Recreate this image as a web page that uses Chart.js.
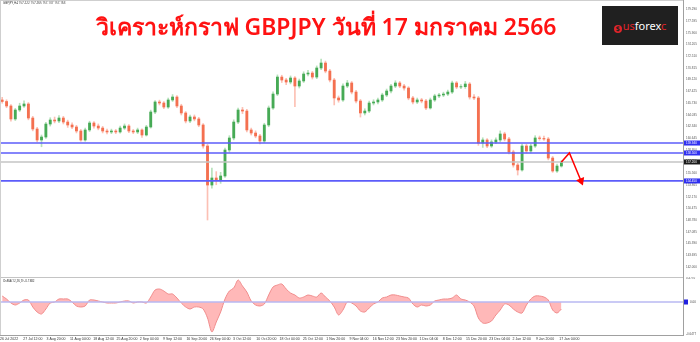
<!DOCTYPE html>
<html>
<head>
<meta charset="utf-8">
<script src="https://cdn.jsdelivr.net/npm/chart.js@4.4.0/dist/chart.umd.min.js"></script>
<style>
	body { margin: 0; background: #fff; width: 700px; height: 342px; overflow: hidden; position: relative; font-family: 'Noto Sans', sans-serif; }
	#main { position: absolute; left: 0; top: 0; }
	#osma { position: absolute; left: 0; top: 277px; }
	#frame { position: absolute; left: 0; top: 0; width: 683px; height: 278px; border-left: 1px solid #cfcfcf; border-top: 1px solid #cfcfcf; border-bottom: 1px solid #c4c4c4; box-sizing: border-box; pointer-events: none; }
	#frame2 { position: absolute; left: 0; top: 277px; width: 1px; height: 58px; background: #cfcfcf; }
	#header { position: absolute; left: 3px; top: 1px; font-size: 3px; color: #333; white-space: nowrap; }
	#osmaLabel { position: absolute; left: 3px; top: 279px; font-size: 3px; color: #333; white-space: nowrap; }
	#title { position: absolute; left: 0; top: 9px; width: 652px; text-align: center; color: #ff1212; font-size: 23px; font-weight: 600; white-space: nowrap; }
	#logo { position: absolute; left: 602px; top: 6px; width: 76px; height: 39px; background: #202020; color: #fff; font-size: 11px; line-height: 39px; text-align: center; white-space: nowrap; }
	#logo .red { color: #e0242a; }
	#logo .dot { display: inline-block; width: 8px; height: 8px; border-radius: 50%; background: #e0242a; color: #202020; font-size: 7px; line-height: 8px; font-weight: bold; vertical-align: -1px; margin-right: 1px; }
</style>
</head>
<body>
<canvas id="main" width="700" height="277"></canvas>
<canvas id="osma" width="700" height="65"></canvas>
<div id="frame"></div>
<div id="frame2"></div>
<div id="header">GBPJPY,H4 157.222 157.265 157.137 157.163</div>
<div id="osmaLabel">OsMA(12,26,9) -0.1382</div>
<div id="title">วิเคราะห์กราฟ GBPJPY วันที่ 17 มกราคม 2566</div>
<div id="logo"><span class="dot">$</span><span class="red">us</span>forex<span class="red">c</span></div>
<script>
//GBPJPY H4 chart, one candle per trading day

//opens / highs / lows / closes
const opens = [166.17,165.95,165.30,163.42,164.72,165.30,165.59,163.56,161.97,160.38,
	160.81,162.69,163.27,163.13,163.56,162.98,162.55,162.26,161.68,160.38,
	161.83,162.84,162.40,162.11,161.68,161.54,161.68,161.54,162.11,162.40,
	161.68,161.54,161.83,161.10,162.26,164.43,165.88,165.73,165.15,166.17,
	166.60,165.30,164.29,163.13,163.71,163.42,162.55,159.51,153.86,154.88,
	154.59,155.17,158.93,160.67,162.98,164.72,164.57,161.83,161.39,160.96,
	160.23,162.55,165.01,167.03,169.49,169.06,168.77,169.35,168.19,168.92,
	169.93,170.07,169.49,170.80,171.52,170.36,169.06,166.46,166.17,168.19,
	168.63,167.32,166.02,164.29,164.57,165.73,165.88,166.17,166.89,167.47,
	168.19,168.63,168.19,167.90,166.46,165.88,166.17,166.02,165.01,166.17,
	166.75,166.89,167.03,167.32,168.63,168.05,168.10,168.48,166.60,166.46,
	159.94,160.38,159.51,160.09,160.38,161.25,160.52,158.64,156.76,156.04,
	159.51,158.79,159.51,160.67,160.60,160.52,157.77,155.89,156.61];

const closes = [165.95,165.30,163.42,164.72,165.30,165.59,163.56,161.97,160.38,160.81,
	162.69,163.27,163.13,163.56,162.98,162.55,162.26,161.68,160.38,161.83,
	162.84,162.40,162.11,161.68,161.54,161.68,161.54,162.11,162.40,161.68,
	161.54,161.83,161.10,162.26,164.43,165.88,165.73,165.15,166.17,166.60,
	165.30,164.29,163.13,163.71,163.42,162.55,159.51,153.86,154.88,154.59,
	155.17,158.93,160.67,162.98,164.72,164.57,161.83,161.39,160.96,160.23,
	162.55,165.01,167.03,169.49,169.06,168.77,169.35,168.19,168.92,169.93,
	170.07,169.49,170.80,171.52,170.36,169.06,166.46,166.17,168.19,168.63,
	167.32,166.02,164.29,164.57,165.73,165.88,166.17,166.89,167.47,168.19,
	168.63,168.19,167.90,166.46,165.88,166.17,166.02,165.01,166.17,166.75,
	166.89,167.03,167.32,168.63,168.05,168.10,168.48,166.60,166.46,159.94,
	160.38,159.51,160.09,160.38,161.25,160.52,158.64,156.76,156.04,159.51,
	158.79,159.51,160.67,160.60,160.52,157.77,155.89,156.61,157.20];

const highs = [166.55,166.20,165.50,164.95,165.70,166.05,165.80,163.80,162.20,161.10,
	162.95,163.60,163.70,163.90,163.80,163.25,162.85,162.50,161.90,162.10,
	163.10,163.05,162.70,162.35,161.95,161.95,161.90,162.40,162.70,162.60,
	161.90,162.10,162.00,162.50,164.70,166.10,166.15,165.95,166.45,166.95,
	166.80,165.55,164.50,164.00,164.00,163.65,162.75,159.75,156.30,155.80,
	155.70,159.20,161.00,163.30,165.00,165.10,164.80,162.10,161.70,161.20,
	162.80,165.30,167.35,169.80,169.75,169.30,169.65,169.55,169.20,170.25,
	170.45,170.30,171.10,172.10,171.80,170.60,169.30,166.75,168.50,169.00,
	168.85,167.55,166.25,164.90,166.00,166.20,166.45,167.15,167.75,168.45,
	168.95,168.85,168.45,168.10,166.70,166.45,166.40,166.25,166.45,167.00,
	167.15,167.30,167.60,168.90,168.85,168.40,168.85,168.70,166.95,166.70,
	160.70,160.60,160.40,160.70,161.70,161.50,160.75,158.90,157.00,159.80,
	159.75,159.80,161.00,160.95,160.95,160.75,158.00,156.90,157.40];

const lows = [165.70,165.05,163.10,163.20,164.50,165.10,163.30,161.70,160.10,159.40,
	160.60,162.40,162.85,162.90,162.70,162.20,162.00,161.40,160.20,160.20,
	161.60,162.10,161.85,161.40,161.25,161.30,161.30,161.35,161.90,161.45,
	161.30,161.30,160.75,160.95,162.10,164.20,165.45,164.90,164.95,165.95,
	165.05,164.00,162.85,162.90,163.15,162.30,159.20,148.80,153.40,153.90,
	154.10,154.95,158.60,160.40,162.75,164.20,161.55,161.10,160.70,159.80,
	160.00,162.30,164.80,166.80,168.70,168.40,168.50,165.20,167.90,168.70,
	169.65,169.20,169.25,170.55,170.10,168.80,165.45,165.85,165.95,167.95,
	167.05,165.75,163.70,164.00,164.35,165.45,165.60,165.95,166.65,167.20,
	167.95,167.95,167.60,166.20,165.60,165.65,165.75,164.75,164.85,165.95,
	166.50,166.65,166.80,167.10,167.80,167.80,167.85,166.30,166.20,159.60,
	159.30,159.25,159.30,159.85,160.10,160.25,158.35,156.45,155.31,155.85,
	158.50,158.50,159.30,160.35,160.30,157.50,155.70,155.70,156.45];

//OsMA histogram, one value per candle
const osmaValues = [0.12,0.06,-0.02,-0.06,-0.02,0.04,0.04,-0.10,-0.20,-0.24,
	-0.14,-0.02,0.00,0.06,0.06,0.06,0.00,-0.08,-0.10,-0.08,
	0.04,0.04,0.02,0.00,-0.02,-0.02,-0.02,0.00,0.02,0.02,
	-0.02,0.00,0.00,-0.02,0.10,0.24,0.26,0.22,0.16,0.16,
	0.08,-0.02,-0.10,-0.14,-0.10,-0.10,-0.14,-0.32,-0.60,-0.40,
	-0.20,0.06,0.22,0.28,0.44,0.32,0.20,0.02,-0.06,-0.08,
	-0.04,0.14,0.30,0.34,0.36,0.26,0.18,0.14,0.08,0.10,
	0.14,0.12,0.10,0.18,0.10,0.02,-0.10,-0.26,-0.16,0.00,
	-0.02,-0.08,-0.18,-0.20,-0.12,-0.04,0.00,0.08,0.10,0.14,
	0.14,0.12,0.10,0.08,-0.04,-0.10,-0.06,-0.08,-0.06,0.02,
	0.04,0.06,0.06,0.08,0.14,0.06,0.04,0.00,-0.08,-0.32,
	-0.42,-0.42,-0.38,-0.26,-0.16,-0.04,-0.06,-0.14,-0.20,-0.22,
	-0.06,0.06,0.12,0.12,0.10,0.04,-0.16,-0.22,-0.14];

//horizontal levels and current price
const levels = [159.94, 158.50, 154.45];
const lastPrice = 157.20;

//red forecast arrow (H4 bar number, price)
const arrowBars = [771, 782, 798];
const arrowPrices = [157.20, 158.50, 154.45];

//axis labels
const priceTicks = [179.290,177.595,175.900,174.205,172.510,170.815,169.120,167.425,165.730,164.035,
	162.340,160.645,158.950,157.255,155.560,153.865,152.170,150.475,148.780,147.085,145.390,143.695,142.000];
const osmaTicks = [0.4770, -0.6477];
const timeLabels = ['26 Jul 2022','27 Jul 12:00','3 Aug 20:00','11 Aug 04:00','18 Aug 12:00','25 Aug 20:00',
	'2 Sep 04:00','9 Sep 12:00','16 Sep 20:00','26 Sep 04:00','3 Oct 12:00','10 Oct 20:00','18 Oct 04:00',
	'25 Oct 12:00','1 Nov 20:00','9 Nov 04:00','16 Nov 12:00','23 Nov 20:00','1 Dec 04:00','8 Dec 12:00',
	'15 Dec 20:00','23 Dec 04:00','2 Jan 12:00','9 Jan 20:00','17 Jan 04:00'];

//each daily candle is 6 H4 bars, a time label every 32 bars
const BARS_PER_CANDLE = 6;
const BARS_PER_LABEL = 32;
const X_MAX = 938;

const UP = 'rgb(70,170,85)';
const DOWN = 'rgb(244,112,80)';
const UP_WICK = 'rgba(120,200,130,0.55)';
const DOWN_WICK = 'rgba(250,150,130,0.6)';

function barOf(i) {
	return i * BARS_PER_CANDLE + BARS_PER_CANDLE / 2;
}

const isUp = i => closes[i] >= opens[i];

const bodyData = closes.map((c, i) => ({x: barOf(i), y: [opens[i], c]}));
const wickData = closes.map((c, i) => ({x: barOf(i), y: [lows[i], highs[i]]}));

function hline(value, color, width) {
	return {
		type: 'line',
		data: [{x: 0, y: value}, {x: X_MAX, y: value}],
		borderColor: color,
		borderWidth: width,
		pointRadius: 0,
		order: 1
	};
}

//price boxes on the right axis
const axisBoxes = {
	id: 'axisBoxes',
	afterDraw(chart) {
		const c = chart.ctx;
		const y = chart.scales.y;
		const items = levels.map(v => ({v: v, bg: '#3030f0'})).concat([{v: lastPrice, bg: '#1a1a1a'}]);
		c.save();
		c.font = '3px "Liberation Sans"';
		c.textBaseline = 'middle';
		items.forEach(it => {
			const py = y.getPixelForValue(it.v);
			c.fillStyle = it.bg;
			c.fillRect(684, py - 2.5, 16, 5);
			c.fillStyle = '#fff';
			c.fillText(it.v.toFixed(3), 686, py);
		});
		c.restore();
	}
};

const zeroBox = {
	id: 'zeroBox',
	afterDraw(chart) {
		const c = chart.ctx;
		const py = chart.scales.y.getPixelForValue(0);
		c.save();
		c.fillStyle = '#2020e0';
		c.fillRect(684, py - 2.5, 4, 5);
		c.font = '3px "Liberation Sans"';
		c.fillStyle = '#444';
		c.textBaseline = 'middle';
		c.fillText('0.00', 690, py);
		c.restore();
	}
};

//main price chart
new Chart(document.getElementById('main'), {
	type: 'bar',
	data: {
		datasets: [
			{
				type: 'line',
				data: arrowBars.map((b, i) => ({x: b, y: arrowPrices[i]})),
				borderColor: '#ff0000',
				borderWidth: 1.5,
				pointRadius: [0, 0, 3.5],
				pointStyle: 'triangle',
				rotation: 158,
				pointBackgroundColor: '#ff0000',
				pointBorderColor: '#ff0000',
				order: 0
			},
			hline(levels[0], 'rgb(92,92,250)', 1.6),
			hline(levels[1], 'rgb(92,92,250)', 1.6),
			hline(levels[2], 'rgb(92,92,250)', 1.8),
			hline(lastPrice, '#c4c4c4', 1.4),
			{
				data: bodyData,
				grouped: false,
				barThickness: 2.2,
				backgroundColor: ctx => isUp(ctx.dataIndex) ? UP : DOWN,
				order: 2
			},
			{
				data: wickData,
				grouped: false,
				barThickness: 1,
				backgroundColor: ctx => isUp(ctx.dataIndex) ? UP_WICK : DOWN_WICK,
				order: 3
			}
		]
	},
	options: {
		responsive: false,
		animation: false,
		layout: {padding: 0, autoPadding: false},
		plugins: {legend: {display: false}, tooltip: {enabled: false}},
		scales: {
			x: {type: 'linear', min: 0, max: X_MAX, display: false, offset: false},
			y: {
				position: 'right',
				min: 140.55,
				max: 180.64,
				beginAtZero: false,
				grid: {display: false, drawTicks: false},
				border: {color: '#a0a0a0'},
				ticks: {font: {size: 3, family: 'Liberation Sans'}, color: '#555', padding: 3, callback: v => v.toFixed(3)},
				afterBuildTicks: s => { s.ticks = priceTicks.map(v => ({value: v})); },
				afterFit: s => { s.width = 17; s.paddingTop = 0; s.paddingBottom = 0; }
			}
		}
	},
	plugins: [axisBoxes]
});

//OsMA panel
new Chart(document.getElementById('osma'), {
	type: 'line',
	data: {
		datasets: [
			{
				data: [{x: 0, y: 0}, {x: X_MAX, y: 0}],
				borderColor: 'rgb(184,184,242)',
				borderWidth: 1.5,
				pointRadius: 0,
				fill: false
			},
			{
				data: osmaValues.map((v, i) => ({x: barOf(i), y: v})),
				borderColor: 'rgb(240,140,140)',
				backgroundColor: 'rgba(255,172,172,0.85)',
				borderWidth: 1,
				pointRadius: 0,
				tension: 0.3,
				fill: 'origin'
			}
		]
	},
	options: {
		responsive: false,
		animation: false,
		layout: {padding: 0, autoPadding: false},
		plugins: {legend: {display: false}, tooltip: {enabled: false}},
		scales: {
			x: {
				type: 'linear',
				min: 0,
				max: X_MAX,
				grid: {display: false, drawTicks: false},
				border: {color: '#a0a0a0'},
				ticks: {font: {size: 3.5, family: 'Liberation Sans'}, color: '#333', align: 'start', maxRotation: 0, autoSkip: false, padding: 2,
					callback: (v, i) => timeLabels[i]},
				afterBuildTicks: s => { s.ticks = timeLabels.map((t, k) => ({value: k * BARS_PER_LABEL})); },
				afterFit: s => { s.height = 7; s.paddingLeft = 0; s.paddingRight = 0; }
			},
			y: {
				position: 'right',
				min: -0.66,
				max: 0.50,
				grid: {display: false, drawTicks: false},
				border: {color: '#a0a0a0'},
				ticks: {font: {size: 3, family: 'Liberation Sans'}, color: '#555', padding: 3, callback: v => v.toFixed(4)},
				afterBuildTicks: s => { s.ticks = osmaTicks.map(v => ({value: v})); },
				afterFit: s => { s.width = 17; s.paddingTop = 0; s.paddingBottom = 0; }
			}
		}
	},
	plugins: [zeroBox]
});
</script>
</body>
</html>
